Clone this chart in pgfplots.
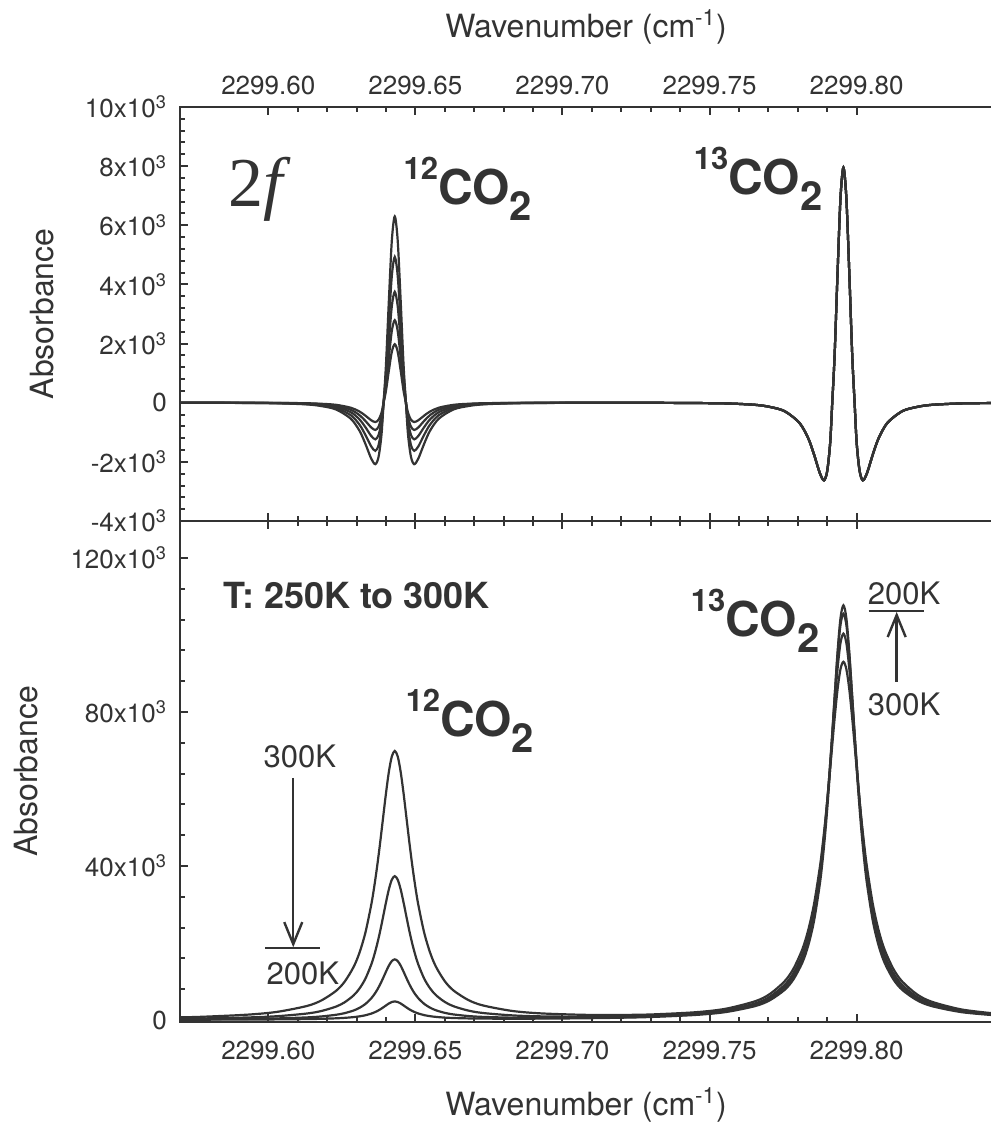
\documentclass[border=0pt]{standalone}
\usepackage{fontspec}
\setmainfont{TeX Gyre Heros}
\newfontfamily\timesfont{Liberation Serif}
\usepackage{pgfplots}
\pgfplotsset{compat=1.18}
\usepackage{pgfplotstable}
\usetikzlibrary{arrows.meta}
\definecolor{ink}{HTML}{333333}

% x = (wavenumber - 2299.60) * 1000
\pgfplotstableread{
x a b c d e
-30 0 0 0 0 0
-12 -6 -5 -4 -3 -2
3 -19 -15 -11 -8 -6
13 -57 -44 -34 -25 -18
18 -113 -89 -68 -50 -36
23 -227 -177 -135 -100 -71
28 -536 -419 -319 -237 -168
31 -945 -740 -563 -419 -297
33 -1386 -1085 -825 -614 -436
35 -1890 -1479 -1125 -837 -594
36.4 -2079 -1627 -1238 -921 -653
37.5 -1827 -1430 -1088 -809 -574
38.5 -1071 -838 -638 -474 -337
39.2 0 0 0 0 0
40 1260 986 750 558 396
41 3465 2712 2063 1535 1089
42 5481 4289 3263 2427 1723
43 6300 4930 3750 2790 1980
44 5481 4289 3263 2427 1723
45 3465 2712 2063 1535 1089
46 1260 986 750 558 396
46.8 0 0 0 0 0
47.5 -1071 -838 -638 -474 -337
48.5 -1827 -1430 -1088 -809 -574
49.6 -2079 -1627 -1238 -921 -653
51 -1890 -1479 -1125 -837 -594
53 -1386 -1085 -825 -614 -436
55 -945 -740 -563 -419 -297
58 -536 -419 -319 -237 -168
63 -227 -177 -135 -100 -71
68 -113 -89 -68 -50 -36
73 -57 -44 -34 -25 -18
83 -19 -15 -11 -8 -6
98 -6 -5 -4 -3 -2
120 0 0 0 0 0
140.5 -8 -8 -8 -8 -8
155.5 -24 -24 -24 -24 -24
165.5 -72 -72 -72 -72 -72
170.5 -143 -143 -143 -143 -143
175.5 -286 -286 -286 -286 -286
180.5 -676 -676 -676 -676 -676
183.5 -1193 -1193 -1193 -1193 -1193
185.5 -1749 -1749 -1749 -1749 -1749
187.5 -2385 -2385 -2385 -2385 -2385
188.9 -2624 -2624 -2624 -2624 -2624
190 -2306 -2306 -2306 -2306 -2306
191 -1352 -1352 -1352 -1352 -1352
191.7 0 0 0 0 0
192.5 1590 1590 1590 1590 1590
193.5 4373 4373 4373 4373 4373
194.5 6917 6917 6917 6917 6917
195.5 7950 7950 7950 7950 7950
196.5 6917 6917 6917 6917 6917
197.5 4373 4373 4373 4373 4373
198.5 1590 1590 1590 1590 1590
199.3 0 0 0 0 0
200 -1352 -1352 -1352 -1352 -1352
201 -2306 -2306 -2306 -2306 -2306
202.1 -2624 -2624 -2624 -2624 -2624
203.5 -2385 -2385 -2385 -2385 -2385
205.5 -1749 -1749 -1749 -1749 -1749
207.5 -1193 -1193 -1193 -1193 -1193
210.5 -676 -676 -676 -676 -676
215.5 -286 -286 -286 -286 -286
220.5 -143 -143 -143 -143 -143
225.5 -72 -72 -72 -72 -72
235.5 -24 -24 -24 -24 -24
246 -12 -12 -12 -12 -12
}\twof

\pgfplotstableread{
x A B C D
-30 704 353 173 93
-22 870 430 205 106
-7 1411 678 304 140
3 2133 1008 431 181
13 3635 1691 691 259
18 5074 2347 940 332
23 7563 3492 1372 456
26 10012 4633 1805 578
29 13780 6408 2484 770
31 17483 8186 3173 965
33 22647 10720 4167 1250
35 29906 14395 5639 1677
36 34522 16804 6624 1967
37 39865 19667 7816 2323
38 45882 22983 9228 2752
39 52351 26675 10839 3251
40 58802 30490 12549 3792
41 64484 33959 14147 4310
42 68454 36454 15321 4698
43 69890 37371 15758 4845
44 68458 36458 15325 4702
45 64492 33967 14153 4316
46 58815 30502 12559 3802
47 52369 26691 10853 3264
48 45905 23004 9246 2769
49 39892 19692 7839 2344
50 34555 16834 6651 1992
51 29946 14431 5672 1708
53 22697 10765 4209 1288
55 17544 8241 3223 1011
57 13851 6472 2543 824
60 10099 4711 1877 644
63 7666 3585 1458 534
68 5206 2466 1049 433
73 3797 1836 826 383
83 2363 1216 622 357
93 1724 960 564 380
108 1355 866 607 476
120 1336 947 736 618
130.5 1468 1126 933 813
145.5 2052 1708 1501 1348
155.5 2947 2545 2289 2082
165.5 4888 4335 3965 3636
170.5 6780 6080 5599 5155
175.5 10074 9138 8477 7838
178.5 13317 12196 11371 10551
181.5 18326 16968 15937 14860
183.5 23254 21750 20569 19264
185.5 30123 28568 27267 25715
187.5 39790 38466 37194 35430
188.5 45938 44954 43840 42032
189.5 53052 52666 51889 50152
190.5 61068 61602 61426 59931
191.5 69686 71551 72303 71326
192.5 78277 81831 83854 83690
193.5 85846 91178 94647 95525
194.5 91131 97897 102581 104378
195.5 93043 100363 105523 107706
196.5 91127 97896 102580 104378
197.5 85839 91175 94646 95525
198.5 78266 81826 83852 83689
199.5 69671 71544 72300 71325
200.5 61049 61594 61423 59930
201.5 53029 52656 51886 50151
202.5 45911 44942 43835 42031
203.5 39760 38452 37189 35429
205.5 30086 28551 27261 25714
207.5 23209 21730 20561 19262
209.5 18273 16944 15929 14857
212.5 13251 12167 11360 10548
215.5 9997 9104 8464 7835
220.5 6681 6036 5583 5151
225.5 4767 4281 3945 3630
235.5 2775 2468 2261 2074
246 1784 1573 1434 1312
}\absb

\newcommand{\iso}[1]{{\bfseries\fontsize{24}{28}\selectfont\raisebox{12.5pt}{\fontsize{15.5}{18}\selectfont #1}CO\raisebox{-8pt}{\fontsize{20}{24}\selectfont 2}}}

\tikzset{ann/.style={inner sep=0pt, text=ink, anchor=base west}}

\pgfplotsset{
  panel/.style={
    scale only axis, width=406pt, xmin=-30, xmax=246,
    xtick={0,50,100,150,200},
    xticklabels={2299.60,2299.65,2299.70,2299.75,2299.80},
    minor x tick num=4, minor y tick num=4,
    scaled ticks=false,
    tick align=inside,
    major tick length=3.8pt, minor tick length=2.4pt,
    axis line style={ink, line width=1.2pt},
    tick style={ink, line width=1pt},
    ytick pos=left,
    tick label style={font=\fontsize{13}{15}\selectfont, text=ink},
    yticklabel shift=3pt,
    label style={font=\fontsize{16}{19}\selectfont, text=ink},
  },
  curve/.style={ink, line width=1.1pt, smooth, no markers},
}

\begin{document}
\begin{tikzpicture}
% ---------------- bottom panel ----------------
\begin{axis}[panel, name=bot, at={(0,0)}, anchor=south west, height=250.5pt,
  ymin=-500, ymax=129600,
  ytick={0,40000,80000,120000},
  yticklabels={0,40x10\textsuperscript{3},80x10\textsuperscript{3},120x10\textsuperscript{3}},
  xtick pos=both, xticklabel pos=bottom, xticklabel shift=6pt,
  xlabel={Wavenumber (cm\textsuperscript{-1})},
  xlabel style={at={(axis description cs:0.5,-0.1657)}, anchor=center},
  ylabel={Absorbance},
  ylabel style={at={(axis description cs:-0.1897,0.5)}, anchor=center, rotate=0},
]
\addplot[curve] table[x=x, y=A]{\absb};
\addplot[curve] table[x=x, y=B]{\absb};
\addplot[curve] table[x=x, y=C]{\absb};
\addplot[curve] table[x=x, y=D]{\absb};
\node[ann] at (axis cs:-15.3,106760) {\bfseries\fontsize{18}{22}\selectfont T: 250K to 300K};
\node[ann] at (axis cs:46.6,73515) {\iso{12}};
\node[ann] at (axis cs:143.5,99485) {\iso{13}};
\node[ann] at (axis cs:-1.7,65464) {\fontsize{15.5}{18}\selectfont 300K};
\node[ann] at (axis cs:-0.7,9109) {\fontsize{15.5}{18}\selectfont 200K};
\draw[ink, line width=1.2pt, -{Straight Barb[length=11pt,width=9pt,line width=1.2pt]}] (axis cs:8.5,62867) -- (axis cs:8.5,18900);
\draw[ink, line width=1.3pt] (axis cs:-1,18718) -- (axis cs:17.7,18718);
\node[ann] at (axis cs:203.7,107800) {\fontsize{15.5}{18}\selectfont 200K};
\draw[ink, line width=1.3pt] (axis cs:204.1,106240) -- (axis cs:222.8,106240);
\draw[ink, line width=1.2pt, -{Straight Barb[length=11pt,width=9pt,line width=1.2pt]}] (axis cs:213.6,87800) -- (axis cs:213.6,106000);
\node[ann] at (axis cs:203.7,78970) {\fontsize{15.5}{18}\selectfont 300K};
\end{axis}
% ---------------- top panel ----------------
\begin{axis}[panel, name=top, at={(0,250.5pt)}, anchor=south west, height=207pt,
  ymin=-4000, ymax=10000,
  ytick={-4000,-2000,0,2000,4000,6000,8000,10000},
  yticklabels={-4x10\textsuperscript{3},-2x10\textsuperscript{3},0,2x10\textsuperscript{3},4x10\textsuperscript{3},6x10\textsuperscript{3},8x10\textsuperscript{3},10x10\textsuperscript{3}},
  xtick pos=both, xticklabel pos=top, xticklabel shift=2.7pt,
  xlabel={Wavenumber (cm\textsuperscript{-1})},
  xlabel style={at={(axis description cs:0.5,1.193)}, anchor=center},
  ylabel={Absorbance},
  ylabel style={at={(axis description cs:-0.170,0.5)}, anchor=center, rotate=0},
]
\addplot[curve] table[x=x, y=a]{\twof};
\addplot[curve] table[x=x, y=b]{\twof};
\addplot[curve] table[x=x, y=c]{\twof};
\addplot[curve] table[x=x, y=d]{\twof};
\addplot[curve] table[x=x, y=e]{\twof};
\node[ann] at (axis cs:-13.6,6620) {\timesfont\fontsize{35}{40}\selectfont 2\textit{f}};
\node[ann] at (axis cs:45.9,6686) {\iso{12}};
\node[ann] at (axis cs:144.5,7025) {\iso{13}};
\end{axis}
\pgfresetboundingbox
\path[use as bounding box] (-90pt,-54.5pt) rectangle (405.3pt,511pt);
\end{tikzpicture}
\end{document}
